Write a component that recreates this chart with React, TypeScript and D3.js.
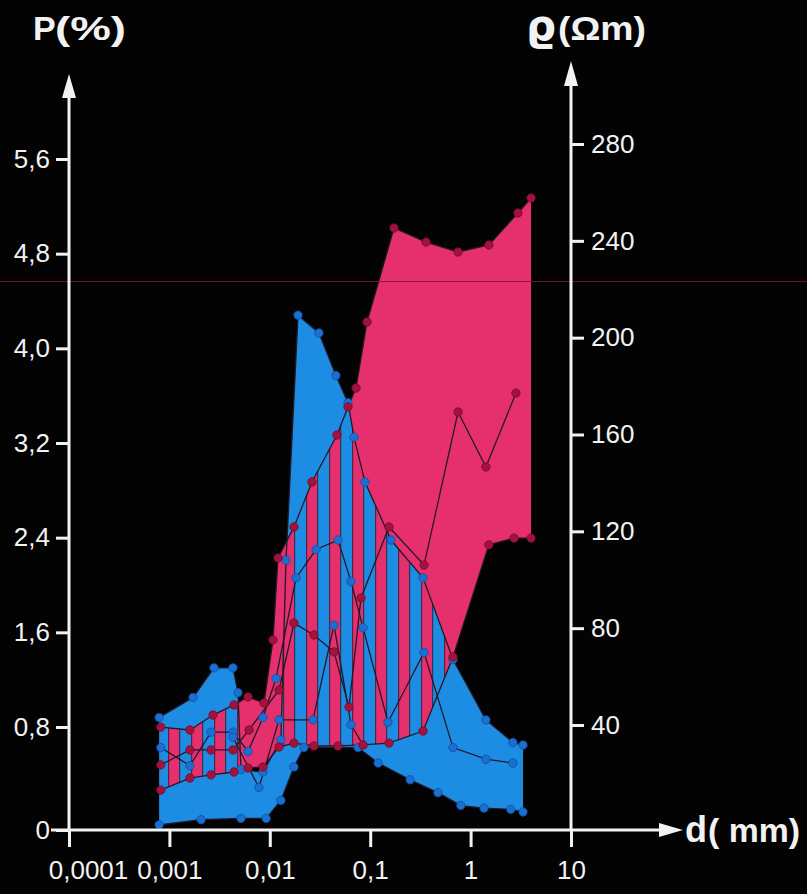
import React, { useEffect, useRef } from 'react';
import * as d3 from 'd3';

type Pt = [number, number];

const pTicks = [0, 0.8, 1.6, 2.4, 3.2, 4.0, 4.8, 5.6];
const rhoTicks = [40, 80, 120, 160, 200, 240, 280];
const dTicks = [0.0001, 0.001, 0.01, 0.1, 1, 10];
const dLabels = ['0,0001', '0,001', '0,01', '0,1', '1', '10'];

// P (%) envelope (blue band): [d mm, P %]
const blueTop: Pt[] = [
  [0.00079, 0.88], [0.00172, 1.05], [0.00278, 1.3], [0.0043, 1.3], [0.00482, 1.09],
  [0.00516, 0.47], [0.00855, 0.45], [0.0129, 0.7], [0.0145, 2.21], [0.0191, 4.28],
  [0.0309, 4.13], [0.0456, 3.77], [0.0601, 3.54], [0.069, 3.25], [0.0888, 2.87],
  [0.161, 2.38], [0.336, 2.06], [0.668, 1.37], [1.42, 0.86], [2.64, 0.68], [3.33, 0.66],
];
const blueBottom: Pt[] = [
  [0.00079, 0.04], [0.00207, 0.08], [0.00516, 0.09], [0.0092, 0.09], [0.0129, 0.23],
  [0.0174, 0.49], [0.0219, 0.64], [0.0756, 0.64], [0.12, 0.52], [0.25, 0.39],
  [0.473, 0.29], [0.8, 0.19], [1.36, 0.17], [2.51, 0.16], [3.33, 0.14],
];

// rho (Ωm) envelope (pink band): [d mm, rho]
const pinkTop: Pt[] = [
  [0.00082, 39.2], [0.0016, 38.1], [0.00272, 44.1], [0.0044, 48.3], [0.00607, 51.6],
  [0.00875, 49.1], [0.01076, 75.1], [0.01207, 109], [0.01742, 121.8], [0.0263, 140.4],
  [0.0467, 159.8], [0.0601, 171.4], [0.0722, 179.2], [0.093, 206.5], [0.1727, 245.3],
  [0.36, 239.5], [0.75, 235.4], [1.52, 238.3], [2.96, 251.5], [4.0, 257.7],
];
const pinkBottom: Pt[] = [
  [0.00082, 15.2], [0.0016, 19.8], [0.0026, 21.0], [0.0044, 22.1], [0.00607, 23.6],
  [0.00855, 24.0], [0.01235, 31.6], [0.01742, 33.1], [0.0275, 32.0], [0.0478, 32.0],
  [0.0848, 32.4], [0.1539, 33.1], [0.336, 37.7], [0.668, 68.1], [1.52, 114.4],
  [2.71, 117.2], [4.0, 117.2],
];

// single samples
const pSampleA: Pt[] = [
  [0.00082, 0.64], [0.0016, 0.5], [0.0026, 0.76], [0.0043, 0.76], [0.00607, 0.61],
  [0.00855, 0.88], [0.01153, 1.21], [0.01824, 2.06], [0.0289, 2.3], [0.0478, 2.38],
  [0.0644, 2.03], [0.0848, 1.64], [0.1504, 0.84], [0.344, 1.43], [0.668, 0.64],
  [1.42, 0.55], [2.64, 0.52],
];
const pSampleB: Pt[] = [
  [0.0043, 0.72], [0.0078, 0.33], [0.01235, 0.86], [0.0269, 0.86], [0.0436, 1.66],
  [0.0644, 0.82], [0.0848, 0.66],
];
const rhoSample: Pt[] = [
  [0.00082, 24.8], [0.0016, 30.5], [0.0026, 30.5], [0.0043, 30.5], [0.00621, 38.1],
  [0.01235, 54.5], [0.01742, 82.1], [0.0275, 77.2], [0.0436, 70.2], [0.0615, 47.4],
  [0.081, 92.5], [0.1539, 121.8], [0.344, 106.1], [0.75, 169.3], [1.42, 146.6],
  [2.83, 177.1],
];

const BLUE = '#1c8de2';
const PINK = '#e6306e';
const INK = '#f2f2f2';
const FONT = "'Liberation Sans', Arial, sans-serif";

const Chart = () => {
  const ref = useRef<SVGSVGElement | null>(null);

  useEffect(() => {
    const svg = d3.select(ref.current);
    svg.selectAll('*').remove();

    const x = d3.scaleLog().domain([1e-4, 10]).range([69, 571]);
    // the printed axes are not quite even near zero
    const yP = d3.scaleLinear().domain([0, 0.8, 5.6]).range([830, 727, 159]);
    const yR = d3.scaleLinear().domain([0, 40, 280]).range([830, 725, 144]);

    const bandPath = (top: Pt[], bottom: Pt[], y: d3.ScaleLinear<number, number>) =>
      d3.line<Pt>().x(d => x(d[0])).y(d => y(d[1]))([...top, ...bottom.slice().reverse()]) + 'Z';

    svg.append('rect').attr('width', 807).attr('height', 894).attr('fill', '#030303');

    const defs = svg.append('defs');
    const pat = defs.append('pattern')
      .attr('id', 'stripes')
      .attr('patternUnits', 'userSpaceOnUse')
      .attr('x', 168).attr('y', 0)
      .attr('width', 23).attr('height', 40);
    pat.append('rect').attr('width', 23).attr('height', 40).attr('fill', BLUE);
    pat.append('rect').attr('width', 11).attr('height', 40).attr('fill', PINK);
    pat.append('rect').attr('x', 0).attr('width', 1.2).attr('height', 40).attr('fill', '#2a1a2e').attr('opacity', 0.75);
    pat.append('rect').attr('x', 11).attr('width', 1.2).attr('height', 40).attr('fill', '#2a1a2e').attr('opacity', 0.75);

    const bluePath = bandPath(blueTop, blueBottom, yP);
    const pinkPath = bandPath(pinkTop, pinkBottom, yR);
    defs.append('clipPath').attr('id', 'blueClip').append('path').attr('d', bluePath);

    // bands; overlap is striped
    svg.append('path').attr('d', bluePath).attr('fill', BLUE);
    svg.append('path').attr('d', pinkPath).attr('fill', PINK);
    svg.append('path').attr('d', pinkPath).attr('fill', 'url(#stripes)').attr('clip-path', 'url(#blueClip)');

    const series = [
      { pts: blueBottom, y: yP, dot: '#1a6fd4' },
      { pts: blueTop, y: yP, dot: '#1a6fd4' },
      { pts: pSampleA, y: yP, dot: '#1a6fd4' },
      { pts: pSampleB, y: yP, dot: '#1a6fd4' },
      { pts: pinkBottom, y: yR, dot: '#a3123d' },
      { pts: pinkTop, y: yR, dot: '#a3123d' },
      { pts: rhoSample, y: yR, dot: '#a3123d' },
    ];

    series.forEach(s => {
      svg.append('path')
        .attr('d', d3.line<Pt>().x(d => x(d[0])).y(d => s.y(d[1]))(s.pts))
        .attr('fill', 'none')
        .attr('stroke', '#21182a')
        .attr('stroke-width', 1.3);
    });
    series.forEach(s => {
      svg.append('g').selectAll('circle')
        .data(s.pts)
        .enter()
        .append('circle')
        .attr('cx', d => x(d[0]))
        .attr('cy', d => s.y(d[1]))
        .attr('r', 4.2)
        .attr('fill', s.dot)
        .attr('stroke', d3.color(s.dot)!.darker(1).toString())
        .attr('stroke-width', 0.8);
    });

    // scanning streak across the print
    svg.append('line')
      .attr('x1', 0).attr('x2', 807).attr('y1', 281.5).attr('y2', 281.5)
      .attr('stroke', '#8a1620').attr('stroke-width', 1.2).attr('opacity', 0.85);

    const styleAxis = (g: d3.Selection<SVGGElement, unknown, null, undefined>, size: number) => {
      g.select('.domain').remove();
      g.selectAll('.tick line').attr('stroke', INK).attr('stroke-width', 3);
      g.selectAll('.tick text').attr('fill', INK).attr('font-size', size).attr('font-family', FONT);
    };

    const fmtP = (d: d3.NumberValue) => (+d === 0 ? '0' : d3.format('.1f')(+d).replace('.', ','));

    const left = svg.append('g').attr('transform', 'translate(69,0)')
      .call(d3.axisLeft(yP).tickValues(pTicks).tickSize(13).tickPadding(6).tickFormat(fmtP));
    styleAxis(left, 26);

    const right = svg.append('g').attr('transform', 'translate(571,0)')
      .call(d3.axisRight(yR).tickValues(rhoTicks).tickSize(13).tickPadding(7));
    styleAxis(right, 26);

    const bottom = svg.append('g').attr('transform', 'translate(0,830)')
      .call(d3.axisBottom(x).tickValues(dTicks).tickSize(17).tickPadding(14)
        .tickFormat((_, i) => dLabels[i]));
    styleAxis(bottom, 26);
    bottom.selectAll('.tick text').filter((_, i) => i === 0).attr('dx', 19);

    // axis lines with arrows
    const axisLines = [
      [51, 830, 662, 830],
      [69, 830, 69, 96],
      [571, 830, 571, 84],
    ];
    axisLines.forEach(([x1, y1, x2, y2]) => {
      svg.append('line').attr('x1', x1).attr('y1', y1).attr('x2', x2).attr('y2', y2)
        .attr('stroke', INK).attr('stroke-width', 3);
    });
    const arrows = [
      [[659, 823], [683, 830], [659, 837]],
      [[62, 98], [69, 74], [76, 98]],
      [[564, 86], [571, 61], [578, 86]],
    ];
    arrows.forEach(a => {
      svg.append('polygon').attr('points', a.map(p => p.join(',')).join(' ')).attr('fill', INK);
    });

    // axis titles
    const title = (tx: number, ty: number, text: string, size: number, len?: number, family = FONT) => {
      const t = svg.append('text').attr('x', tx).attr('y', ty).text(text)
        .attr('fill', INK).attr('font-size', size).attr('font-weight', 'bold').attr('font-family', family);
      if (len) t.attr('textLength', len).attr('lengthAdjust', 'spacingAndGlyphs');
    };
    title(33, 40, 'P', 34);
    title(55, 40, '(%)', 34, 71);
    title(526, 40, 'ϱ', 42, undefined, "'DejaVu Sans', sans-serif");
    title(558, 40, '(Ωm)', 34, 88);
    title(685, 842, 'd', 36);
    title(708, 842, '( mm)', 34, 92);
  }, []);

  return <svg ref={ref} width={807} height={894} style={{ display: 'block' }} />;
};

export default function App() {
  return (
    <div style={{ position: 'absolute', left: 0, top: 0, width: 807, height: 894, background: '#030303' }}>
      <Chart />
    </div>
  );
}
